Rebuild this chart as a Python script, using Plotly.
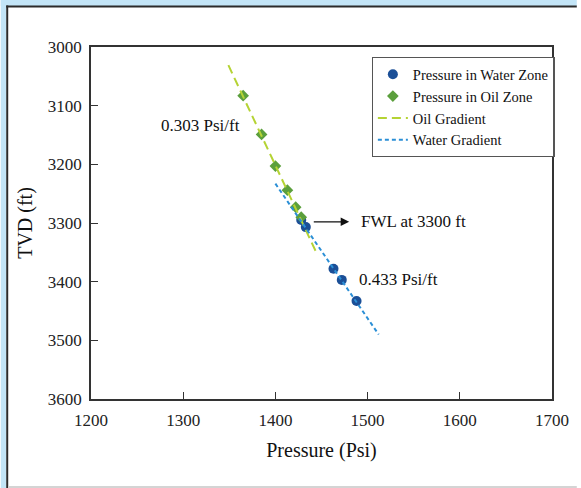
import plotly.graph_objects as go

# ---- data ----
water_pressure = [1428, 1433, 1463, 1472, 1488]
water_tvd = [3295, 3307, 3378, 3397, 3433]
oil_pressure = [1365, 1385, 1400, 1413, 1422, 1428]
oil_tvd = [3083, 3149, 3203, 3244, 3273, 3290]
oil_grad_pressure = [1349, 1444]
oil_grad_tvd = [3031, 3349]
water_grad_pressure = [1400, 1512]
water_grad_tvd = [3233, 3490]
x_ticks = [1200, 1300, 1400, 1500, 1600, 1700]
y_ticks = [3000, 3100, 3200, 3300, 3400, 3500, 3600]

FONT = "Liberation Serif"
W, H = 581, 488
ML, MR, MT, MB = 91, 25, 47, 89
PW, PH = W - ML - MR, H - MT - MB


def px(x):
    return (x - ML) / PW


def py(y):
    return 1 - (y - MT) / PH


fig = go.Figure()
fig.add_trace(go.Scatter(x=water_pressure, y=water_tvd, mode="markers",
                         name="Pressure in Water Zone",
                         marker=dict(symbol="circle", size=10, color="#1b4f97")))
fig.add_trace(go.Scatter(x=oil_pressure, y=oil_tvd, mode="markers",
                         name="Pressure in Oil Zone",
                         marker=dict(symbol="diamond", size=9, color="#5b9f3c")))
fig.add_trace(go.Scatter(x=oil_grad_pressure, y=oil_grad_tvd, mode="lines",
                         name="Oil Gradient",
                         line=dict(color="#b5d334", width=2, dash="9px,5px")))
fig.add_trace(go.Scatter(x=water_grad_pressure, y=water_grad_tvd, mode="lines",
                         name="Water Gradient",
                         line=dict(color="#2b8fd6", width=2, dash="4px,3px")))

# frame decoration
shapes = [
    dict(type="rect", xref="paper", yref="paper", x0=px(0), x1=px(W), y0=py(0), y1=py(6),
         fillcolor="#c3e5f7", line=dict(width=0), layer="below"),
    dict(type="rect", xref="paper", yref="paper", x0=px(0), x1=px(5.5), y0=py(0), y1=py(H),
         fillcolor="#c3e5f7", line=dict(width=0), layer="below"),
    dict(type="rect", xref="paper", yref="paper", x0=px(5.5), x1=px(W), y0=py(5.5), y1=py(7.5),
         fillcolor="#2b2b2b", line=dict(width=0), layer="below"),
    dict(type="rect", xref="paper", yref="paper", x0=px(5.5), x1=px(7.5), y0=py(5.5), y1=py(H),
         fillcolor="#2b2b2b", line=dict(width=0), layer="below"),
    dict(type="rect", xref="paper", yref="paper", x0=px(7.5), x1=px(W), y0=py(486), y1=py(H),
         fillcolor="#d4d4d4", line=dict(width=0), layer="below"),
]

annotations = [
    dict(x=1319, y=3134, xref="x", yref="y", text="0.303 Psi/ft", showarrow=False,
         font=dict(family=FONT, size=17, color="#111")),
    dict(x=1491, y=3298, xref="x", yref="y", text="FWL at 3300 ft", showarrow=False,
         xanchor="left", font=dict(family=FONT, size=17, color="#111")),
    dict(x=1489, y=3397, xref="x", yref="y", text="0.433 Psi/ft", showarrow=False,
         xanchor="left", font=dict(family=FONT, size=17, color="#111")),
    dict(x=1480, y=3298, ax=1440, ay=3298, xref="x", yref="y", axref="x", ayref="y",
         text="", showarrow=True, arrowhead=2, arrowsize=1.3, arrowwidth=1.3, arrowcolor="#111"),
]

axis_common = dict(showline=True, linecolor="#333", linewidth=1.5, mirror=True,
                   ticks="inside", ticklen=7, tickwidth=1.2, tickcolor="#333",
                   showgrid=False, zeroline=False,
                   tickfont=dict(family=FONT, size=17, color="#222"))

fig.update_layout(
    width=W, height=H,
    margin=dict(l=ML, r=MR, t=MT, b=MB),
    paper_bgcolor="white", plot_bgcolor="white",
    shapes=shapes, annotations=annotations,
    xaxis=dict(range=[1200, 1700], tickvals=x_ticks,
               title=dict(text="Pressure (Psi)", font=dict(family=FONT, size=20, color="#111"), standoff=14),
               ticklabelstandoff=5,
               **axis_common),
    yaxis=dict(range=[3600, 3000], tickvals=y_ticks,
               title=dict(text="TVD (ft)", font=dict(family=FONT, size=20, color="#111"), standoff=10),
               ticklabelstandoff=4,
               **axis_common),
    legend=dict(x=px(374), y=py(57), xanchor="left", yanchor="top",
                bordercolor="#555", borderwidth=1.3, bgcolor="white",
                font=dict(family=FONT, size=14.5, color="#111"),
                itemwidth=30, tracegroupgap=0),
    showlegend=True,
)

fig.write_html("out.html")
